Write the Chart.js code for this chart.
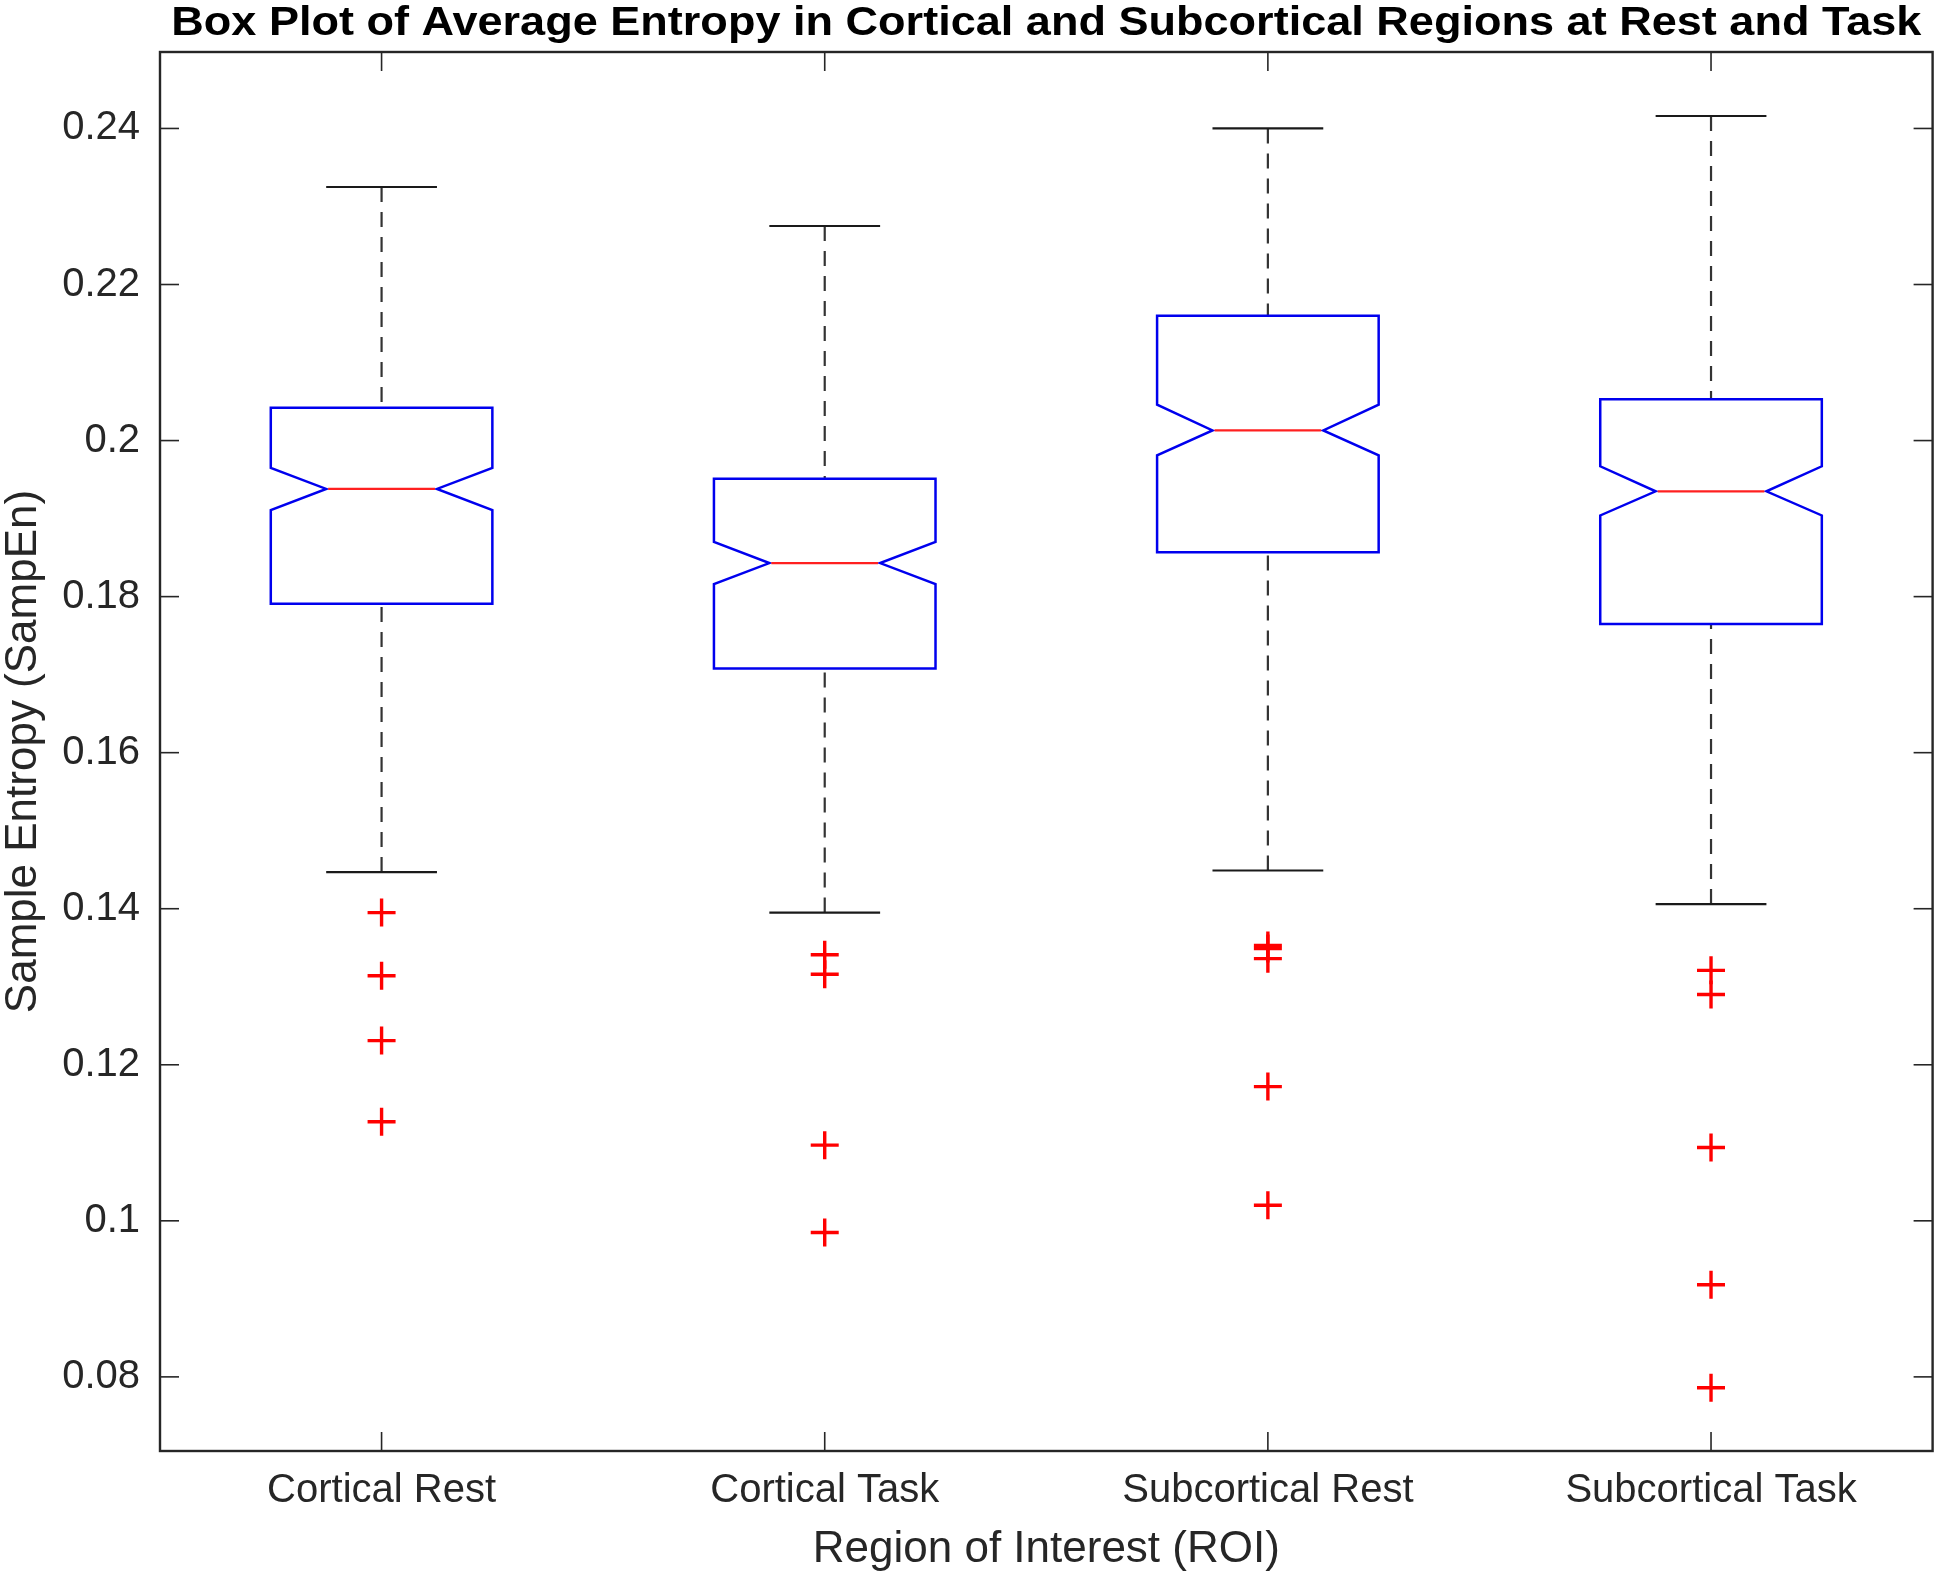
<!DOCTYPE html>
<html><head><meta charset="utf-8">
<script src="https://cdn.jsdelivr.net/npm/chart.js@4.4.1/dist/chart.umd.min.js"></script>
<style>html,body{margin:0;padding:0;background:#fff}#wrap{width:1950px;height:1589px;position:relative}</style>
</head><body><div id="wrap"><canvas id="c"></canvas></div>
<script>
const titleText = 'Box Plot of Average Entropy in Cortical and Subcortical Regions at Rest and Task';
const xTitle = 'Region of Interest (ROI)';
const yTitle = 'Sample Entropy (SampEn)';
const categories = ['Cortical Rest', 'Cortical Task', 'Subcortical Rest', 'Subcortical Task'];
const whiskerLow  = [0.1447, 0.1395, 0.1449, 0.1406];
const q1          = [0.1791, 0.1708, 0.1857, 0.1765];
const medians     = [0.1938, 0.1843, 0.2013, 0.1935];
const q3          = [0.2042, 0.1951, 0.2160, 0.2053];
const whiskerHigh = [0.2325, 0.2275, 0.2400, 0.2416];
const notchLow    = [0.1911, 0.1816, 0.1981, 0.1904];
const notchHigh   = [0.1965, 0.1870, 0.2046, 0.1967];
const outliers = [
  [0.1395, 0.1314, 0.1231, 0.1127],
  [0.1341, 0.1316, 0.1097, 0.0985],
  [0.1353, 0.1349, 0.1336, 0.1172, 0.1020],
  [0.1321, 0.1290, 0.1094, 0.0918, 0.0786]
];
const yTicks = [0.08, 0.10, 0.12, 0.14, 0.16, 0.18, 0.20, 0.22, 0.24];
const yMin = 0.0705, yMax = 0.2498;

const FONT = '"Liberation Sans", Arial, Helvetica, sans-serif';
const AX = '#262626';

function seg(ctx, x1, y1, x2, y2) { ctx.beginPath(); ctx.moveTo(x1, y1); ctx.lineTo(x2, y2); ctx.stroke(); }

const boxPlugin = {
  id: 'notchedBoxes',
  beforeDatasetsDraw(chart) {
    const ctx = chart.ctx, x = chart.scales.x, y = chart.scales.y;
    categories.forEach((c, i) => {
      const k = i + 1;
      const xc = x.getPixelForValue(k);
      const xl = x.getPixelForValue(k - 0.25), xr = x.getPixelForValue(k + 0.25);
      const nl = x.getPixelForValue(k - 0.125), nr = x.getPixelForValue(k + 0.125);
      const yLo = y.getPixelForValue(whiskerLow[i]), yHi = y.getPixelForValue(whiskerHigh[i]);
      const yq1 = y.getPixelForValue(q1[i]), yq3 = y.getPixelForValue(q3[i]);
      const ym = y.getPixelForValue(medians[i]);
      const ynl = y.getPixelForValue(notchLow[i]), ynh = y.getPixelForValue(notchHigh[i]);
      ctx.save();
      ctx.lineCap = 'butt';
      ctx.strokeStyle = '#333333';
      ctx.lineWidth = 2.2;
      ctx.setLineDash([15, 10]);
      seg(ctx, xc, yHi, xc, yq3);
      seg(ctx, xc, yLo, xc, yq1);
      ctx.setLineDash([]);
      ctx.strokeStyle = '#1a1a1a';
      seg(ctx, nl, yHi, nr, yHi);
      seg(ctx, nl, yLo, nr, yLo);
      ctx.strokeStyle = '#0000ee';
      ctx.lineWidth = 2.5;
      ctx.lineJoin = 'miter';
      ctx.beginPath();
      ctx.moveTo(xl, yq3); ctx.lineTo(xr, yq3); ctx.lineTo(xr, ynh); ctx.lineTo(nr, ym);
      ctx.lineTo(xr, ynl); ctx.lineTo(xr, yq1); ctx.lineTo(xl, yq1); ctx.lineTo(xl, ynl);
      ctx.lineTo(nl, ym); ctx.lineTo(xl, ynh); ctx.closePath();
      ctx.stroke();
      ctx.strokeStyle = '#ff2020';
      ctx.lineWidth = 2.2;
      seg(ctx, nl + 2, ym, nr - 2, ym);
      ctx.restore();
    });
  }
};

const framePlugin = {
  id: 'frame',
  afterDraw(chart) {
    const ctx = chart.ctx, a = chart.chartArea, x = chart.scales.x, y = chart.scales.y;
    const tl = 19;
    ctx.save();
    ctx.strokeStyle = AX;
    ctx.lineWidth = 1.6;
    yTicks.forEach(v => {
      const p = y.getPixelForValue(v);
      seg(ctx, a.left, p, a.left + tl, p);
      seg(ctx, a.right, p, a.right - tl, p);
    });
    categories.forEach((c, i) => {
      const p = x.getPixelForValue(i + 1);
      seg(ctx, p, a.bottom, p, a.bottom - tl);
      seg(ctx, p, a.top, p, a.top + tl);
    });
    ctx.lineWidth = 2.4;
    ctx.strokeRect(a.left, a.top, a.right - a.left, a.bottom - a.top);
    // title, stretched horizontally to the reference width
    ctx.fillStyle = '#000';
    ctx.font = 'bold 41px ' + FONT;
    ctx.textAlign = 'center';
    ctx.textBaseline = 'alphabetic';
    const w = ctx.measureText(titleText).width;
    const targetW = 1750;
    const sx = targetW / w;
    ctx.translate((a.left + a.right) / 2, 35);
    ctx.scale(sx, 1);
    ctx.fillText(titleText, 0, 0);
    ctx.restore();
  }
};

const points = outliers.flatMap((arr, i) => arr.map(v => ({ x: i + 1, y: v })));

new Chart(document.getElementById('c'), {
  type: 'scatter',
  data: {
    datasets: [{
      label: 'Outliers',
      data: points,
      pointStyle: 'cross',
      radius: 14,
      hoverRadius: 14,
      borderColor: '#ff0000',
      backgroundColor: '#ff0000',
      borderWidth: 3.4
    }]
  },
  options: {
    responsive: true,
    maintainAspectRatio: false,
    devicePixelRatio: 1,
    animation: false,
    layout: { padding: { top: 52, right: 9, left: 0, bottom: 0 } },
    plugins: { legend: { display: false }, tooltip: { enabled: false }, title: { display: false } },
    scales: {
      x: {
        type: 'linear', min: 0.5, max: 4.5,
        afterBuildTicks: s => { s.ticks = categories.map((c, i) => ({ value: i + 1 })); },
        afterFit: s => { s.height = 138; },
        grid: { display: false, drawTicks: false },
        border: { display: false },
        ticks: {
          autoSkip: false, maxRotation: 0, padding: 16, color: AX,
          font: { family: FONT, size: 40 },
          callback: v => categories[Math.round(v) - 1] || ''
        },
        title: { display: true, text: xTitle, color: AX, font: { family: FONT, size: 44 }, padding: { top: 0, bottom: 13 } }
      },
      y: {
        type: 'linear', min: yMin, max: yMax,
        afterBuildTicks: s => { s.ticks = yTicks.map(v => ({ value: v })); },
        afterFit: s => { s.width = 160; },
        grid: { display: false, drawTicks: false },
        border: { display: false },
        ticks: {
          padding: 20, color: AX,
          font: { family: FONT, size: 40 },
          callback: v => String(parseFloat(Number(v).toFixed(3)))
        },
        title: { display: true, text: yTitle, color: AX, font: { family: FONT, size: 44, lineHeight: 1.1 }, padding: { top: 0, bottom: 0 } }
      }
    }
  },
  plugins: [boxPlugin, framePlugin]
});
</script>
</body></html>
